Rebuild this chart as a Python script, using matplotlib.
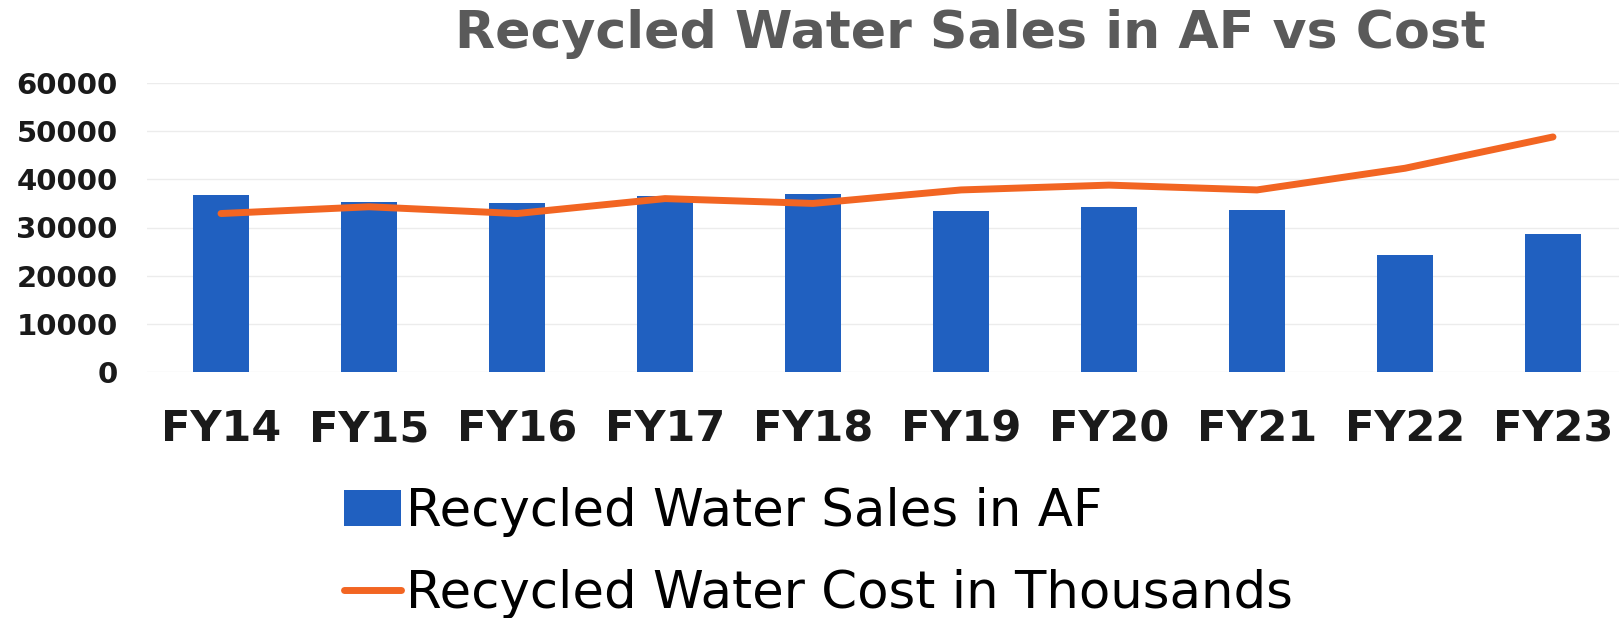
"""Recycled water sales (AF) as bars with recycled water cost (thousands) as a line."""

import matplotlib
matplotlib.use("Agg")
import matplotlib.pyplot as plt

# Data
years = ["FY14", "FY15", "FY16", "FY17", "FY18", "FY19", "FY20", "FY21", "FY22", "FY23"]
sales_af = [36700, 35300, 35100, 36500, 37000, 33400, 34300, 33600, 24300, 28600]
cost_thousands = [32900, 34300, 32900, 36000, 35000, 37800, 38800, 37800, 42300, 48800]
y_ticks = [0, 10000, 20000, 30000, 40000, 50000, 60000]

BAR_COLOR = "#2060c0"
LINE_COLOR = "#f26522"

fig = plt.figure(figsize=(16.19, 6.18), dpi=100)
W, H = 1619, 618

# plot area in pixel coordinates of the reference (right side runs past the edge)
left_px, right_px = 147, 1627
top_px, bottom_px = 83, 372
ax = fig.add_axes([left_px / W, 1 - bottom_px / H,
                   (right_px - left_px) / W, (bottom_px - top_px) / H])

x = list(range(len(years)))
bars = ax.bar(x, sales_af, width=0.385, color=BAR_COLOR, zorder=2,
              label="Recycled Water Sales in AF")
line, = ax.plot(x, cost_thousands, color=LINE_COLOR, lw=5, zorder=3,
                solid_capstyle="round", label="Recycled Water Cost in Thousands")

ax.set_xlim(-0.5, len(years) - 0.5)
ax.set_ylim(0, 60000)
ax.set_yticks(y_ticks)
ax.set_yticklabels([str(v) for v in y_ticks])
ax.set_xticks(x)
ax.set_xticklabels(years)

ax.grid(axis="y", color="#ececec", lw=1, zorder=0)
for side in ax.spines.values():
    side.set_visible(False)
ax.tick_params(axis="both", length=0)
ax.tick_params(axis="y", pad=21, labelsize=21, labelcolor="#1a1a1a")
ax.tick_params(axis="x", pad=26, labelsize=31, labelcolor="#1a1a1a")
for lbl in ax.get_xticklabels() + ax.get_yticklabels():
    lbl.set_fontweight("bold")

fig.text(970 / W, 1 - 34 / H, "Recycled Water Sales in AF vs Cost",
         ha="center", va="center", fontsize=37.5, fontweight="bold", color="#5a5a5a")

fig.legend(handles=[bars, line], loc="upper left",
           bbox_to_anchor=(344 / W, 1 - 487 / H), frameon=False,
           prop={"family": "DejaVu Sans", "size": 37},
           handlelength=1.1, handletextpad=0.1, labelspacing=0.63,
           borderpad=0, borderaxespad=0)

fig.savefig("out.png", dpi=100)
